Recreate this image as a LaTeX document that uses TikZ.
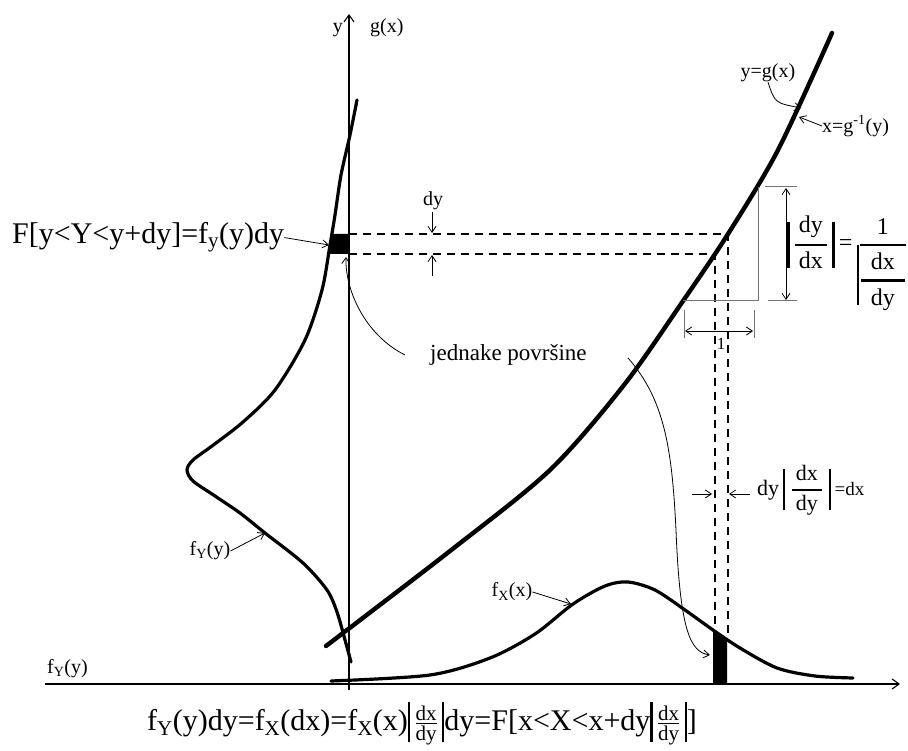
\documentclass[tikz,border=0pt]{standalone}
\usepackage{amsmath}
\usepackage{fontspec}
\setmainfont{Liberation Serif}
\usepackage{tikz}
\usetikzlibrary{arrows.meta,positioning}

% thick bar for absolute values, and fractions with a heavy rule
\newcommand{\vbar}[2]{\rule[#1]{2.4pt}{#2}}
\newcommand{\tkfrac}[3][1.5pt]{\genfrac{}{}{#1}{}{\text{#2}}{\text{#3}}}

\begin{document}
\begin{tikzpicture}[x=1pt, y=-1pt,
  curve/.style={line width=3.2pt, line cap=round},
  axis/.style={line width=1.1pt, -{Straight Barb[length=7pt,width=10pt]}},
  arr/.style={line width=0.8pt, -{Straight Barb[length=6pt,width=8pt]}},
  dline/.style={line width=1.2pt, dash pattern=on 8pt off 6pt},
  gline/.style={line width=1pt, black!55},
  big/.style={font=\fontsize{30}{36}\selectfont, inner sep=0pt},
  lbl/.style={font=\fontsize{20}{24}\selectfont, inner sep=0pt}
]
\useasboundingbox (0,0) rectangle (908,751);

% axes
\coordinate (xl) at (45,684);
\coordinate (xr) at (900,684);
\coordinate (yb) at (349,690);
\coordinate (yt) at (349,14);
\draw[axis] (xl) -- (xr);
\draw[axis] (yb) -- (yt);
\node[lbl, anchor=base east] (ylab) at (343,33) {y};
\node[lbl, anchor=base west] (glab) at (370,33) {g(x)};
\node[lbl, anchor=base west] (fyax) at (47,673) {f\textsubscript{Y}(y)};

% shaded strips
\fill (349,234) -- (333,234) -- (328,254) -- (349,254) -- cycle;
\fill (713,684) -- (713,630) -- (727,640) -- (727,684) -- cycle;

% densities and g(x)
\draw[curve] plot[smooth] coordinates {(357,100) (350,135) (341,175) (335,215)
  (330,245) (322,290) (305,340) (275,390) (243,422) (212,446) (193,460)
  (187,470) (193,481) (215,496) (240,513) (265,533) (303,563) (327,590)
  (337,612) (345,640) (351,662)};
\draw[curve] plot[smooth] coordinates {(331,681) (430,675) (490,658) (535,634)
  (573,604) (605,586) (628,582) (655,590) (685,610) (713,630) (740,648)
  (777,668) (815,676) (853,678)};
\draw[curve, line width=4.4pt] plot[smooth] coordinates {(326,646) (450,551)
  (550,470) (624,385) (683,301) (728,234) (778,150) (832,33)};

% projections
\coordinate (ptop) at (728,234);
\coordinate (pbot) at (715,254);
\draw[dline] (349,234) -- (ptop) -- (728,640);
\draw[dline] (349,254) -- (pbot) -- (715,630);

% slope triangle
\draw[gline] (683,301) -- (758,301) -- (758,187);
\draw[gline] (765,187) -- (797,187);
\draw[gline] (768,301) -- (797,301);
\draw[arr, arrows={Straight Barb[length=6pt,width=8pt]-Straight Barb[length=6pt,width=8pt]}] (786,188) -- (786,300);
\draw[gline] (684,310) -- (684,338);
\draw[gline] (754,310) -- (754,338);
\draw[arr, arrows={Straight Barb[length=6pt,width=8pt]-Straight Barb[length=6pt,width=8pt]}] (685,331) -- (753,331);
\node[font=\fontsize{17}{20}\selectfont, inner sep=0pt] (one) at (721,344) {1};

% dy and dx markers
\node[lbl] (dy) at (433,201) {dy};
\draw[arr] (432,212) -- (432,233);
\draw[arr] (432,276) -- (432,255);
\draw[arr] (692,494) -- (712,494);
\draw[arr] (750,494) -- (729,494);

% labels
\node[big, anchor=base west] (Fy) at (12,244) {F[y<Y<y+dy]=f\textsubscript{y}(y)dy};
\draw[arr] (Fy.east) -- (329,245);
\node[font=\fontsize{23}{28}\selectfont, inner sep=0pt, anchor=base west] (jp) at (430,360) {jednake površine};
\coordinate (jl) at (405,355);
\coordinate (jr) at (628,358);
\draw[arr] (jl) .. controls (365,335) and (345,290) .. (346,257);
\draw[arr] (jr) .. controls (665,400) and (672,450) .. (676,530)
  .. controls (680,630) and (690,652) .. (710,655);
\node[lbl] (ygx) at (768,73) {y=g(x)};
\draw[arr] (ygx.south) .. controls (775,103) .. (801,108);
\node[lbl, anchor=west] (xgy) at (822,126) {x=g\textsuperscript{-1}(y)};
\draw[arr] (xgy.west) -- (799,117);
\node[lbl] (fyl) at (210,551) {f\textsubscript{Y}(y)};
\draw[arr] (fyl.east) -- (265,533);
\node[lbl] (fxl) at (512,592) {f\textsubscript{X}(x)};
\draw[arr] (fxl.east) -- (571,604);

% formulas
\node[font=\fontsize{24}{28}\selectfont, inner sep=0pt, anchor=base west] (ratio) at (787,251)
  {$\displaystyle\vbar{-0.7em}{1.9em}\,\tkfrac[2pt]{\,dy\,}{\,dx\,}\,\vbar{-0.7em}{1.9em}\,\text{=}\,\vbar{-2.25em}{2.5em}\genfrac{}{}{2.4pt}{0}{\text{1}}{\displaystyle\tkfrac[2.4pt]{\kern0.4em dx\kern0.4em}{dy}}$};
\node[font=\fontsize{22}{26}\selectfont, inner sep=0pt, anchor=base west] (dxl) at (757,495)
  {dy\,$\displaystyle\vbar{-0.7em}{1.9em}\;\tkfrac[1.6pt]{\,dx\,}{\,dy\,}\;\vbar{-0.7em}{1.9em}$\,{\fontsize{19}{22}\selectfont =dx}};
\node[big, anchor=base west] (bot) at (147,730)
  {f\textsubscript{Y}(y)dy=f\textsubscript{X}(dx)=f\textsubscript{X}(x)$\vbar{-0.4em}{1.35em}\,\tkfrac[1.4pt]{dx}{dy}\,\vbar{-0.4em}{1.35em}$dy=F[x<X<x+dy$\vbar{-0.4em}{1.35em}\,\tkfrac[1.4pt]{dx}{dy}\,\vbar{-0.4em}{1.35em}$]};
\end{tikzpicture}
\end{document}
